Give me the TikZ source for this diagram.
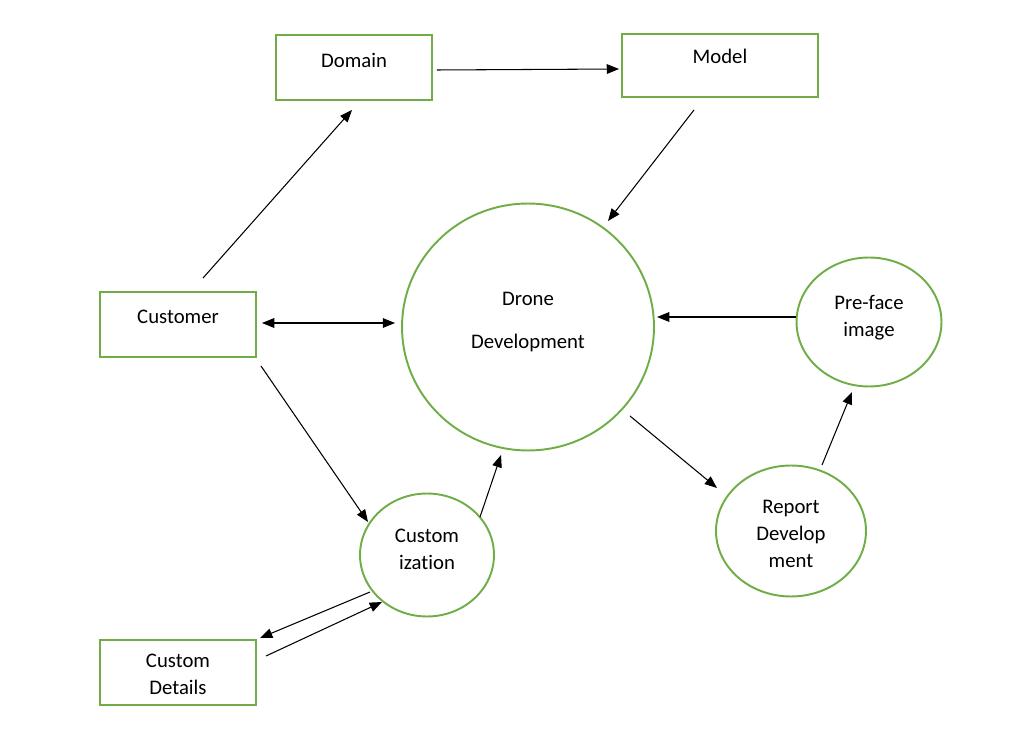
\documentclass[tikz,border=0pt]{standalone}
\usepackage{fontspec}
\setmainfont{Carlito}[Ligatures=NoCommon]
\usetikzlibrary{arrows.meta,shapes.geometric}
\definecolor{leaf}{RGB}{112,173,71}
% lines of a label, lifted by half of #1
\newcommand\lbl[2]{\raisebox{0pt}[\height][\dimexpr\depth+#1\relax]{\begin{tabular}{@{}c@{}}#2\end{tabular}}}
\tikzset{
  >={Triangle[length=7pt,width=5.5pt]},
  flow/.style={black, line width=0.6pt},
  block/.style={draw=leaf, line width=1.1pt, rectangle, minimum width=3.12cm, minimum height=1.3cm, inner sep=0pt},
  bubble/.style={draw=leaf, line width=1.1pt, ellipse, inner sep=0pt},
}
\begin{document}
\begin{tikzpicture}[x=0.02cm, y=-0.02cm, font=\fontsize{11.8}{15.5}\selectfont]
    \useasboundingbox (0,0) rectangle (1035,739);

    \node[block] (dom) at (354, 67.5) {\lbl{6pt}{Domain}};
    \node[block, minimum width=3.92cm, minimum height=1.26cm] (mod) at (720, 65.5) {\lbl{8pt}{Model}};
    \node[block] (cust) at (178, 324.5) {\lbl{6.8pt}{Customer}};
    \node[block] (cdet) at (178, 672.5) {\lbl{-3.5pt}{Custom\\Details}};

    \node[bubble, minimum width=5.04cm, minimum height=4.94cm, font=\fontsize{11.8}{25}\selectfont] (drone) at (528, 327) {\lbl{10pt}{Drone\\Development}};
    \node[bubble, minimum width=2.9cm, minimum height=2.58cm] (pref) at (869, 322) {\lbl{5pt}{Pre-face\\image}};
    \node[bubble, minimum width=3cm, minimum height=2.62cm] (rep) at (791, 531) {\lbl{-4.5pt}{Report\\Develop\\ment}};
    \node[bubble, minimum width=2.68cm, minimum height=2.46cm] (custz) at (427, 555) {\lbl{5pt}{Custom\\ization}};

    \draw[flow, ->] ([shift={(4,2.5)}]dom.east) -- ([shift={(-2,3.5)}]mod.west);
    \draw[flow, ->] ([shift={(25,-13)}]cust.north) -- ([shift={(-2,9)}]dom.south);
    \draw[flow, ->] ([shift={(-26,12)}]mod.south) -- ([shift={(80,-106)}]drone.center);
    \draw[flow, <->] ([shift={(5,-1.5)}]cust.east) -- ([shift={(-6,-4)}]drone.west);
    \draw[flow, ->] ([shift={(4,8)}]cust.south east) -- ([shift={(-59,-33)}]custz.center);
    \draw[flow, ->] ([shift={(53,-38)}]custz.center) -- ([shift={(-27,128)}]drone.center);
    \draw[flow, ->] ([shift={(102,89)}]drone.center) -- ([shift={(-74,-43)}]rep.center);
    \draw[flow, ->] ([shift={(31,-66)}]rep.center) -- ([shift={(-17,70)}]pref.center);
    \draw[flow, ->] ([shift={(-73,-5)}]pref.center) -- ([shift={(129,-10)}]drone.center);
    \draw[flow, ->] ([shift={(-57,37)}]custz.center) -- ([shift={(82,-34.5)}]cdet.center);
    \draw[flow, ->] ([shift={(88,-16.5)}]cdet.center) -- ([shift={(-45,47)}]custz.center);
  \end{tikzpicture}
\end{document}
